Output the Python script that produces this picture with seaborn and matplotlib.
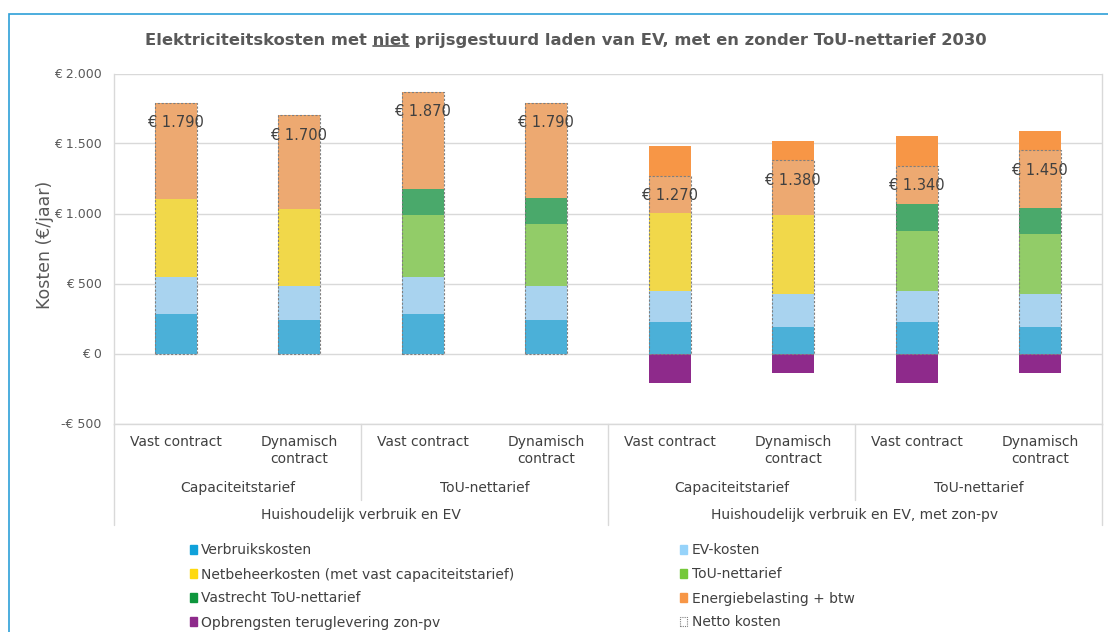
import pandas as pd
import matplotlib.pyplot as plt
import matplotlib.patches as mpatches
import matplotlib.transforms as mtransforms
from matplotlib.lines import Line2D
import seaborn as sns

# cost components per bar (EUR/year)
bar_ids = ['b1', 'b2', 'b3', 'b4', 'b5', 'b6', 'b7', 'b8']
verbruik = [280, 240, 280, 240, 222, 188, 222, 188]
ev_kosten = [270, 245, 270, 245, 223, 236, 221, 236]
netbeheer = [555, 550, 0, 0, 561, 563, 0, 0]
tou_tarief = [0, 0, 440, 438, 0, 0, 430, 432]
vastrecht = [0, 0, 184, 186, 0, 0, 193, 186]
energiebelasting = [685, 665, 696, 681, 476, 533, 484, 548]
opbrengst = [0, 0, 0, 0, -210, -140, -210, -140]
netto = [1790, 1700, 1870, 1790, 1270, 1380, 1340, 1450]

contract_labels = ['Vast contract', 'Dynamisch\ncontract'] * 4
tarief_labels = ['Capaciteitstarief', 'ToU-nettarief'] * 2
situatie_labels = ['Huishoudelijk verbruik en EV', 'Huishoudelijk verbruik en EV, met zon-pv']
ytick_values = [-500, 0, 500, 1000, 1500, 2000]
ytick_labels = ['-€ 500', '€ 0', '€ 500', '€ 1.000', '€ 1.500', '€ 2.000']

series = ['Verbruikskosten', 'EV-kosten', 'Netbeheerkosten (met vast capaciteitstarief)',
          'ToU-nettarief', 'Vastrecht ToU-nettarief', 'Energiebelasting + btw']
colors = ['#10A1DA', '#96D3FA', '#FED90E', '#75C839', '#0E963D', '#F79646']
purple = '#8E2A8B'

df = pd.DataFrame({'bar': bar_ids,
                   series[0]: verbruik, series[1]: ev_kosten, series[2]: netbeheer,
                   series[3]: tou_tarief, series[4]: vastrecht, series[5]: energiebelasting,
                   'opbrengst': opbrengst, 'netto': netto})
cum = df[series].cumsum(axis=1)
cum['bar'] = df['bar']

sns.set_theme(style='white')
plt.rcParams['font.family'] = ['DejaVu Sans']

fig = plt.figure(figsize=(11.08, 6.32), dpi=100)
ax = fig.add_axes([114 / 1108, 1 - 423.5 / 632, 988 / 1108, 350 / 632])

bw = 0.34
# stacked bars: draw cumulative totals from the top layer down
for name, col in reversed(list(zip(series, colors))):
    sns.barplot(data=cum, x='bar', y=name, order=bar_ids, color=col, saturation=1,
                width=bw, errorbar=None, linewidth=0, ax=ax)
sns.barplot(data=df, x='bar', y='opbrengst', order=bar_ids, color=purple, saturation=1,
            width=bw, errorbar=None, linewidth=0, ax=ax)

# netto kosten: translucent box with dashed outline
n_before = len(ax.patches)
sns.barplot(data=df, x='bar', y='netto', order=bar_ids, color='#D6D6D6', saturation=1,
            width=bw, errorbar=None, ax=ax)
for p in ax.patches[n_before:]:
    p.set_facecolor((0.84, 0.84, 0.84, 0.3))
    p.set_edgecolor('#7F7F7F')
    p.set_linestyle((0, (2, 1.5)))
    p.set_linewidth(0.8)

for i, v in enumerate(netto):
    ax.annotate(f'€ {v:,}'.replace(',', '.'), (i, v), xytext=(0, -20),
                textcoords='offset pixels', ha='center', va='center',
                fontsize=10.5, color='#404040')

ax.set_xlim(-0.5, 7.5)
ax.set_ylim(-500, 2000)
ax.set_yticks(ytick_values)
ax.set_yticklabels(ytick_labels)
ax.set_xticks([])
ax.set_xlabel('')
ax.set_ylabel('')
ax.tick_params(axis='y', length=0, pad=9, labelsize=9, labelcolor='#595959')
ax.grid(axis='y', color='#D9D9D9', linewidth=1)
ax.set_axisbelow(True)
for s in ax.spines.values():
    s.set_color('#D9D9D9')
    s.set_linewidth(1)
ax.spines['top'].set_visible(False)

# multi-level category axis below the plot
trans = mtransforms.blended_transform_factory(ax.transData, ax.transAxes)
for i, lab in enumerate(contract_labels):
    ax.text(i, -0.032, lab, transform=trans, ha='center', va='top', fontsize=10,
            color='#404040', linespacing=1.3)
for j, lab in enumerate(tarief_labels):
    ax.text(2 * j + 0.5, -0.185, lab, transform=trans, ha='center', va='center',
            fontsize=10, color='#404040')
for k, lab in enumerate(situatie_labels):
    ax.text(4 * k + 1.5, -0.26, lab, transform=trans, ha='center', va='center',
            fontsize=10, color='#404040')
for xb, y_end in [(-0.5, -0.29), (1.5, -0.218), (3.5, -0.29), (5.5, -0.218), (7.5, -0.29)]:
    ax.add_line(Line2D([xb, xb], [0, y_end], transform=trans, color='#D9D9D9',
                       linewidth=1, clip_on=False))

fig.text(45 / 1108, 1 - 245 / 632, 'Kosten (€/jaar)', rotation=90, ha='center', va='center',
         fontsize=12.5, color='#595959')

title_kw = dict(fontsize=11.75, fontweight='bold', color='#595959')
title = fig.text(566 / 1108, 1 - 40 / 632,
                 'Elektriciteitskosten met niet prijsgestuurd laden van EV, met en zonder ToU-nettarief 2030',
                 ha='center', va='center', **title_kw)

# legend, filled column by column
handles = [mpatches.Patch(color=c) for c in colors]
netto_handle = mpatches.Patch(facecolor='white', edgecolor='#7F7F7F', linestyle=(0, (1, 1)),
                              linewidth=0.8)
order = [0, 2, 4, None, 1, 3, 5, 'n']
leg_handles, leg_labels = [], []
for o in order:
    if o is None:
        leg_handles.append(mpatches.Patch(color=purple))
        leg_labels.append('Opbrengsten teruglevering zon-pv')
    elif o == 'n':
        leg_handles.append(netto_handle)
        leg_labels.append('Netto kosten')
    else:
        leg_handles.append(handles[o])
        leg_labels.append(series[o])
fig.legend(leg_handles, leg_labels, ncol=2, loc='upper left',
           bbox_to_anchor=(177 / 1108, 1 - 531 / 632), frameon=False, fontsize=10,
           handlelength=0.55, handleheight=0.55, handletextpad=0.3,
           labelspacing=0.72, columnspacing=11.9, labelcolor='#404040')

# outer frame
fig.add_artist(mpatches.Rectangle((9 / 1108, -0.1), 1.1, 1.1 - 14 / 632, transform=fig.transFigure,
                                  fill=False, edgecolor='#2E9FD8', linewidth=1.2))

# underline "niet" in the title
fig.canvas.draw()
r = fig.canvas.get_renderer()
bb = title.get_window_extent(r)
tmp1 = fig.text(0, 0, 'Elektriciteitskosten met niet', **title_kw)
tmp2 = fig.text(0, 0, 'niet', **title_kw)
w1 = tmp1.get_window_extent(r).width
w2 = tmp2.get_window_extent(r).width
tmp1.remove()
tmp2.remove()
x_end = bb.x0 + w1
x_start = x_end - w2
yl = bb.y0 + 2
fig.add_artist(Line2D([x_start / fig.bbox.width, x_end / fig.bbox.width],
                      [yl / fig.bbox.height, yl / fig.bbox.height],
                      transform=fig.transFigure, color='#595959', linewidth=1.2))

fig.savefig('out.png', dpi=100)
